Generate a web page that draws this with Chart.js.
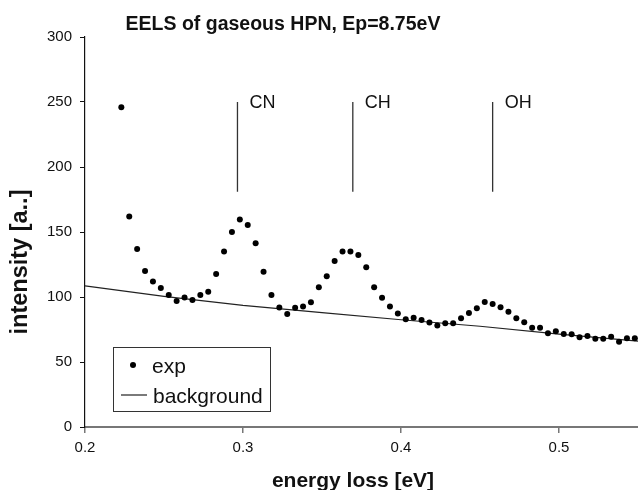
<!DOCTYPE html>
<html><head><meta charset="utf-8">
<script src="https://cdn.jsdelivr.net/npm/chart.js@4/dist/chart.umd.min.js"></script>
<style>html,body{margin:0;padding:0;background:#fff;overflow:hidden}</style>
</head><body>
<canvas id="c" width="638" height="490"></canvas>
<script>
const chartTitle = 'EELS of gaseous HPN, Ep=8.75eV';
const xTitle = 'energy loss [eV]';
const yTitle = 'intensity [a..]';

const expX = [0.223,0.228,0.233,0.238,0.243,0.248,0.253,0.258,0.263,0.268,
              0.273,0.278,0.283,0.288,0.293,0.298,0.303,0.308,0.313,0.318,
              0.323,0.328,0.333,0.338,0.343,0.348,0.353,0.358,0.363,0.368,
              0.373,0.378,0.383,0.388,0.393,0.398,0.403,0.408,0.413,0.418,
              0.423,0.428,0.433,0.438,0.443,0.448,0.453,0.458,0.463,0.468,
              0.473,0.478,0.483,0.488,0.493,0.498,0.503,0.508,0.513,0.518,
              0.523,0.528,0.533,0.538,0.543,0.548];
const expY = [246,162,137,120,112,107,101.5,97,99.7,97.7,
              101.5,104,117.7,135,150,159.7,155.4,141.3,119.5,101.5,
              92,87,91.8,92.6,96,107.5,116,127.7,135,135,
              132.3,122.8,107.5,99.5,92.6,87.4,82.8,84,82.3,80.3,
              78,79.8,79.8,83.6,87.6,91.3,96.2,94.6,92.1,88.7,
              83.6,80.5,76.4,76.4,72.1,73.6,71.5,71.3,69,70,
              67.9,67.9,69.5,65.6,68.2,68.2];

const bgX = [0.2, 0.25, 0.3, 0.35, 0.4, 0.45, 0.5, 0.55];
const bgY = [108.5, 100.5, 93.5, 88, 82.5, 77.5, 71.5, 66];

const peakNames = ['CN', 'CH', 'OH'];
const peakX = [0.2965, 0.3695, 0.458];
const peakTop = [250, 250, 250];
const peakBottom = [181, 181, 181];

const xTicks = [0.2, 0.3, 0.4, 0.5];
const yTicks = [0, 50, 100, 150, 200, 250, 300];
const legendLabels = ['exp', 'background'];

const FONT = '"Liberation Sans", Arial, Helvetica, sans-serif';

const datasets = [
  {
    label: legendLabels[0],
    data: expX.map((v, i) => ({x: v, y: expY[i]})),
    pointRadius: 3, pointBackgroundColor: '#000', pointBorderWidth: 0,
    showLine: false
  },
  {
    label: legendLabels[1],
    data: bgX.map((v, i) => ({x: v, y: bgY[i]})),
    showLine: true, pointRadius: 0, borderColor: '#222', borderWidth: 1.2,
    tension: 0
  }
];
peakNames.forEach((n, i) => {
  datasets.push({
    label: n,
    data: [{x: peakX[i], y: peakTop[i]}, {x: peakX[i], y: peakBottom[i]}],
    showLine: true, pointRadius: 0, borderColor: '#333', borderWidth: 1.3
  });
});

const overlay = {
  id: 'overlay',
  afterDraw(chart) {
    const {ctx, chartArea: ca, scales: {x, y}} = chart;
    ctx.save();
    ctx.fillStyle = '#111';
    // peak labels
    ctx.font = '18px ' + FONT;
    ctx.textAlign = 'left';
    ctx.textBaseline = 'alphabetic';
    peakNames.forEach((n, i) => {
      ctx.fillText(n, x.getPixelForValue(peakX[i]) + 12, y.getPixelForValue(peakTop[i]) + 6);
    });
    // chart title
    ctx.font = 'bold 19.5px ' + FONT;
    ctx.textAlign = 'center';
    ctx.fillText(chartTitle, 283, 30);
    // x title
    ctx.font = 'bold 21px ' + FONT;
    ctx.textBaseline = 'middle';
    ctx.fillText(xTitle, 353, 481);
    // y title
    ctx.save();
    ctx.translate(21, 262);
    ctx.rotate(-Math.PI / 2);
    ctx.font = 'bold 23.5px ' + FONT;
    ctx.fillText(yTitle, 0, 0);
    ctx.restore();
    // legend box
    const lx = ca.left + 28, ly = 347, lw = 157, lh = 64;
    ctx.fillStyle = '#fff';
    ctx.fillRect(lx, ly, lw, lh);
    ctx.strokeStyle = '#333';
    ctx.lineWidth = 1;
    ctx.strokeRect(lx + 0.5, ly + 0.5, lw, lh);
    ctx.fillStyle = '#000';
    ctx.beginPath();
    ctx.arc(lx + 20, ly + 18, 3, 0, Math.PI * 2);
    ctx.fill();
    ctx.strokeStyle = '#222';
    ctx.lineWidth = 1.2;
    ctx.beginPath();
    ctx.moveTo(lx + 8, ly + 48);
    ctx.lineTo(lx + 34, ly + 48);
    ctx.stroke();
    ctx.fillStyle = '#111';
    ctx.font = '21px ' + FONT;
    ctx.textAlign = 'left';
    ctx.textBaseline = 'middle';
    ctx.fillText(legendLabels[0], lx + 39, ly + 20);
    ctx.fillText(legendLabels[1], lx + 40, ly + 50);
    ctx.restore();
  }
};

new Chart(document.getElementById('c'), {
  type: 'scatter',
  data: {datasets},
  options: {
    responsive: false,
    animation: false,
    devicePixelRatio: 1,
    layout: {autoPadding: false, padding: {top: 37, right: 0, bottom: 0, left: 0}},
    plugins: {legend: {display: false}, title: {display: false}, tooltip: {enabled: false}},
    scales: {
      x: {
        type: 'linear', min: 0.2, max: 0.55,
        afterBuildTicks: s => { s.ticks = xTicks.map(v => ({value: v})); },
        afterFit: s => { s.height = 63; s.paddingLeft = 0; s.paddingRight = 0; },
        ticks: {
          font: {family: FONT, size: 15}, color: '#111', padding: 6,
          callback: v => Number(v).toFixed(1), maxRotation: 0
        },
        grid: {drawOnChartArea: false, drawTicks: true, tickLength: 6, color: '#777', lineWidth: 1.5},
        border: {display: true, color: '#777', width: 2}
      },
      y: {
        min: 0, max: 300,
        afterBuildTicks: s => { s.ticks = yTicks.map(v => ({value: v})); },
        afterFit: s => { s.width = 85; },
        ticks: {font: {family: FONT, size: 15}, color: '#111', padding: 8},
        grid: {drawOnChartArea: false, drawTicks: true, tickLength: 5, color: '#111', lineWidth: 1},
        border: {display: true, color: '#111', width: 1.2}
      }
    }
  },
  plugins: [overlay]
});
</script>
</body></html>
